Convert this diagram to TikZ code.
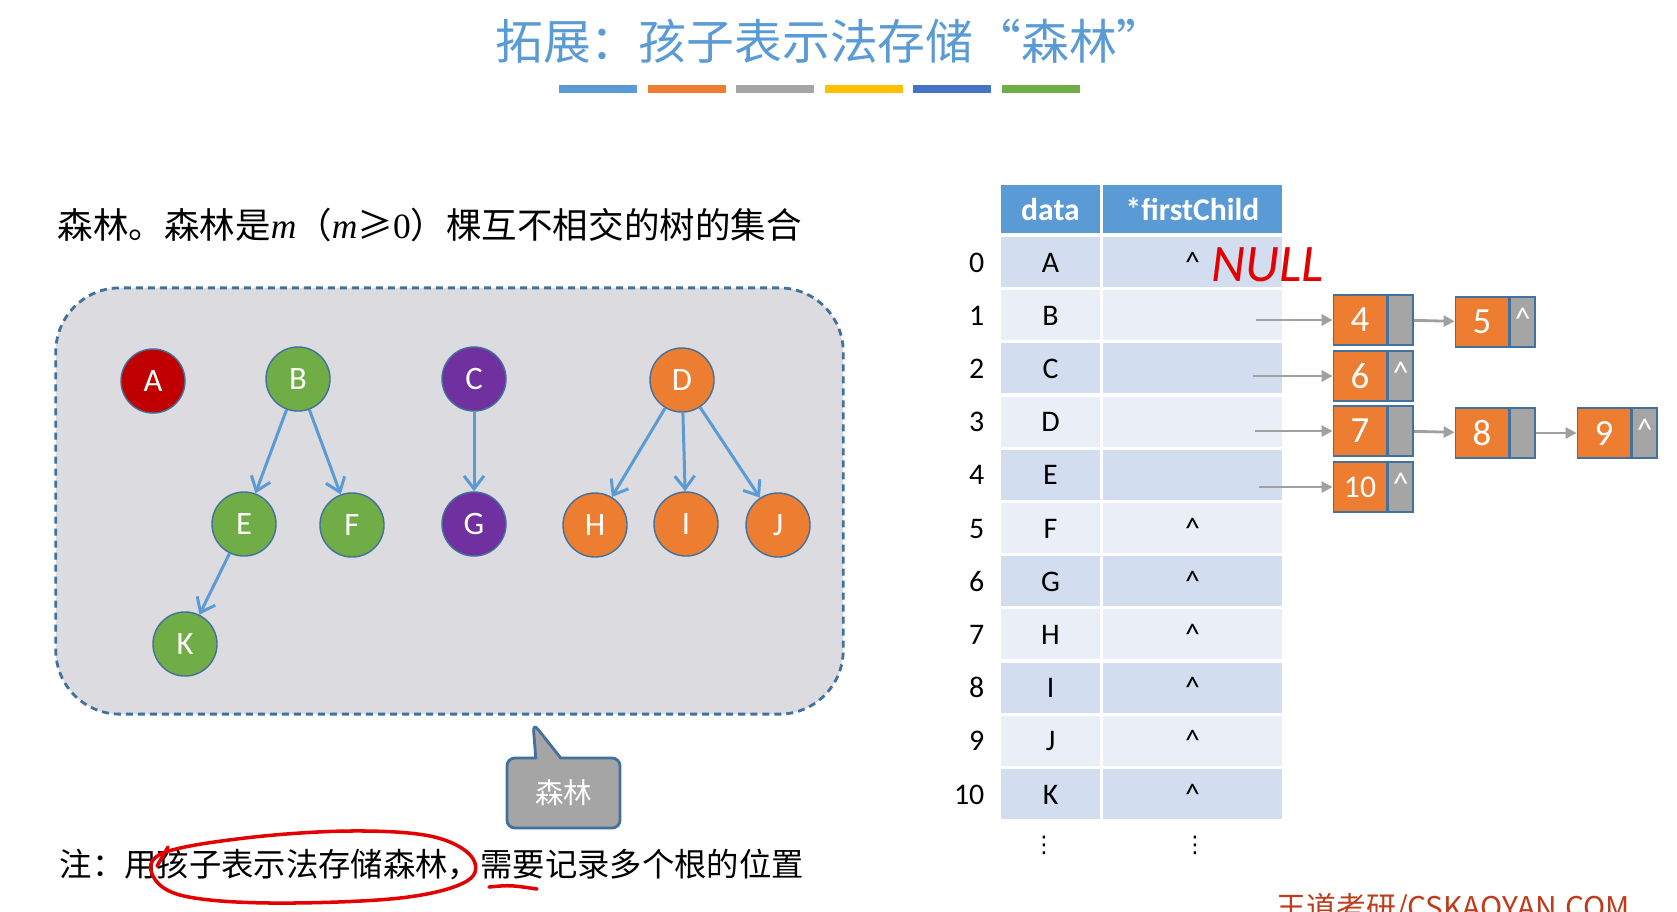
\documentclass[tikz,border=0pt]{standalone}
\usepackage{fontspec}
\setmainfont{Carlito}
\newfontfamily\cjk{Noto Sans CJK SC}
\newfontfamily\timesfont{Liberation Serif}
\newfontfamily\symfont{DejaVu Sans}
\usetikzlibrary{positioning,arrows.meta,shapes.callouts}
\definecolor{titleblue}{RGB}{91,155,213}
\definecolor{barorange}{RGB}{237,125,49}
\definecolor{bargray}{RGB}{165,165,165}
\definecolor{baryellow}{RGB}{255,192,0}
\definecolor{bardarkblue}{RGB}{68,114,196}
\definecolor{bargreen}{RGB}{112,173,71}
\definecolor{rootred}{RGB}{192,0,0}
\definecolor{treepurple}{RGB}{112,48,160}
\definecolor{edgeblue}{RGB}{65,113,156}
\definecolor{forestfill}{RGB}{220,219,223}
\definecolor{rowdark}{RGB}{210,222,239}
\definecolor{rowlight}{RGB}{234,239,247}
\definecolor{linkgray}{RGB}{160,160,160}
\definecolor{inkred}{RGB}{228,0,0}
\definecolor{logored}{RGB}{190,60,30}
\newcommand{\nilmark}{\textasciicircum}

\begin{document}
\begin{tikzpicture}[x=0.01cm, y=-0.01cm,
  treenode/.style={circle, draw=edgeblue, line width=0.4pt, minimum size=0.64cm, inner sep=0pt, text=white, font=\fontsize{9.3pt}{11pt}\selectfont},
  treeedge/.style={-{Straight Barb[length=0.13cm,width=0.2cm]}, draw=titleblue, line width=0.85pt},
  headcell/.style={fill=titleblue, text=white, inner sep=0pt, minimum height=0.48cm, font=\bfseries\fontsize{9pt}{11pt}\selectfont},
  datacell/.style={inner sep=0pt, minimum width=0.99cm, minimum height=0.5cm, text height=0.2cm, text depth=0cm, font=\fontsize{8.5pt}{10pt}\selectfont},
  ptrcell/.style={datacell, minimum width=1.79cm},
  idxcell/.style={inner sep=0pt, anchor=east, text height=0.2cm, text depth=0cm, font=\fontsize{8.5pt}{10pt}\selectfont},
  listdata/.style={fill=barorange, draw=edgeblue, line width=0.5pt, text=white, minimum width=0.53cm, minimum height=0.5cm, inner sep=0pt, font=\fontsize{10.5pt}{12pt}\selectfont},
  listptr/.style={fill=bargray, draw=edgeblue, line width=0.5pt, text=white, minimum width=0.25cm, minimum height=0.5cm, inner sep=0pt, text height=0.22cm, text depth=0.08cm, font=\fontsize{9pt}{11pt}\selectfont},
  linkarrow/.style={-{Triangle[length=0.11cm,width=0.11cm]}, draw=linkgray, line width=0.8pt},
  inkline/.style={draw=inkred, line width=1pt, line cap=round, line join=round}]
\path[use as bounding box] (0,0) rectangle (1677,911);
\clip (0,0) rectangle (1677,911);
\fill[white] (0,0) rectangle (1677,911);

\node[font=\cjk\fontsize{13.6pt}{16pt}\selectfont, text=titleblue] (title) at (830,41) {拓展：孩子表示法存储“森林”};
\foreach \c [count=\k from 0] in {titleblue,barorange,bargray,baryellow,bardarkblue,bargreen}
  \fill[\c] ({559+88.5*\k},85) rectangle ++(78,8);

\node[anchor=west, inner sep=0pt, font=\cjk\fontsize{10.1pt}{12pt}\selectfont] (defn) at (57,225) {森林。森林是{\timesfont\itshape m}（{\timesfont\itshape m}≥{\timesfont 0}）棵互不相交的树的集合};

\node[draw=edgeblue, dash pattern=on 0.07cm off 0.05cm, line width=0.8pt, fill=forestfill, rounded corners=0.64cm, minimum width=7.87cm, minimum height=4.26cm] (forest) at (449.5,501) {};
\node[treenode, fill=rootred] (A) at (153,381) {A};
\node[treenode, fill=bargreen] (B) at (298,379) {B};
\node[treenode, fill=treepurple] (C) at (474,379) {C};
\node[treenode, fill=barorange] (D) at (682,380) {D};
\node[treenode, fill=bargreen] (E) at (244,524) {E};
\node[treenode, fill=bargreen] (F) at (352,525) {F};
\node[treenode, fill=treepurple] (G) at (474,524) {G};
\node[treenode, fill=barorange] (H) at (595,525) {H};
\node[treenode, fill=barorange] (I) at (686,524) {I};
\node[treenode, fill=barorange] (J) at (778,525) {J};
\node[treenode, fill=bargreen] (K) at (185,644) {K};
\draw[treeedge] (B) -- (E);
\draw[treeedge] (B) -- (F);
\draw[treeedge] (E) -- (K);
\draw[treeedge] (C) -- (G);
\draw[treeedge] (D) -- (H);
\draw[treeedge] (D) -- (I);
\draw[treeedge] (D) -- (J);

\node[rectangle callout, callout absolute pointer={(533,723)}, callout pointer width=0.25cm, fill=bargray, draw=edgeblue, line width=0.8pt, rounded corners=0.08cm, minimum width=1.13cm, minimum height=0.7cm, text=white, font=\cjk\fontsize{8.1pt}{10pt}\selectfont] (tag) at (563.5,793) {森林};

\node[anchor=west, inner sep=0pt, font=\cjk\fontsize{9.2pt}{11pt}\selectfont] (note) at (59,864) {注：用孩子表示法存储森林，需要记录多个根的位置};
\draw[inkline] plot[smooth cycle, tension=0.6] coordinates {(163,853) (245,838) (348,831) (430,836) (471,856) (467,881) (400,898) (272,903) (184,896) (153,876)};
\draw[inkline] (157,866) -- (168,847);
\draw[inkline] (489,887) .. controls (510,885) .. (537,889);

\node[headcell, minimum width=0.99cm] (hdata) at (1050.5,209) {data};
\node[headcell, minimum width=1.79cm] (hchild) at (1192.5,209) {*firstChild};
\foreach \i/\v/\p in {0/A/\nilmark,1/B/{},2/C/{},3/D/{},4/E/{},5/F/\nilmark,6/G/\nilmark,7/H/\nilmark,8/I/\nilmark,9/J/\nilmark,10/K/\nilmark}{
  \pgfmathsetmacro\ry{262+53.2*\i}
  \ifodd\i \def\rowcol{rowlight}\else\def\rowcol{rowdark}\fi
  \node[idxcell] (i\i) at (985,\ry) {\i};
  \node[datacell, fill=\rowcol] (d\i) at (1050.5,\ry) {\v};
  \node[ptrcell, fill=\rowcol] (f\i) at (1192.5,\ry) {\p};
}
\node[font=\symfont\fontsize{6.5pt}{8pt}\selectfont, inner sep=0pt] (dotsa) at (1044,845) {⋮};
\node[font=\symfont\fontsize{6.5pt}{8pt}\selectfont, inner sep=0pt] (dotsb) at (1195,845) {⋮};
\node[text=inkred, font=\itshape\fontsize{15pt}{17pt}\selectfont] (null) at (1268,265) {NULL};

\node[listdata] (n4) at (1360,320) {4};
\node[listptr, right=0pt of n4] (p4) {};
\node[listdata] (n5) at (1482,322) {5};
\node[listptr, right=0pt of n5] (p5) {\nilmark};
\node[listdata] (n6) at (1360,376) {6};
\node[listptr, right=0pt of n6] (p6) {\nilmark};
\node[listdata] (n7) at (1360,431) {7};
\node[listptr, right=0pt of n7] (p7) {};
\node[listdata] (n8) at (1482,433) {8};
\node[listptr, right=0pt of n8] (p8) {};
\node[listdata] (n9) at (1604,433) {9};
\node[listptr, right=0pt of n9] (p9) {\nilmark};
\node[listdata, font=\fontsize{9pt}{11pt}\selectfont] (n10) at (1360,487) {10};
\node[listptr, right=0pt of n10] (p10) {\nilmark};
\coordinate (c1) at (1256,320);
\coordinate (c2) at (1253,376);
\coordinate (c3) at (1255,431);
\coordinate (c4) at (1259,487);
\draw[linkarrow] (c1) -- (n4);
\draw[linkarrow] (c2) -- (n6);
\draw[linkarrow] (c3) -- (n7);
\draw[linkarrow] (c4) -- (n10);
\draw[linkarrow] (p4) -- (n5);
\draw[linkarrow] (p7) -- (n8);
\draw[linkarrow] (p8) -- (n9);

\node[anchor=north west, inner sep=0pt, text=logored, font=\cjk\fontsize{8.5pt}{10pt}\selectfont] (logo) at (1276,893) {王道考研/CSKAOYAN.COM};
\end{tikzpicture}
\end{document}
